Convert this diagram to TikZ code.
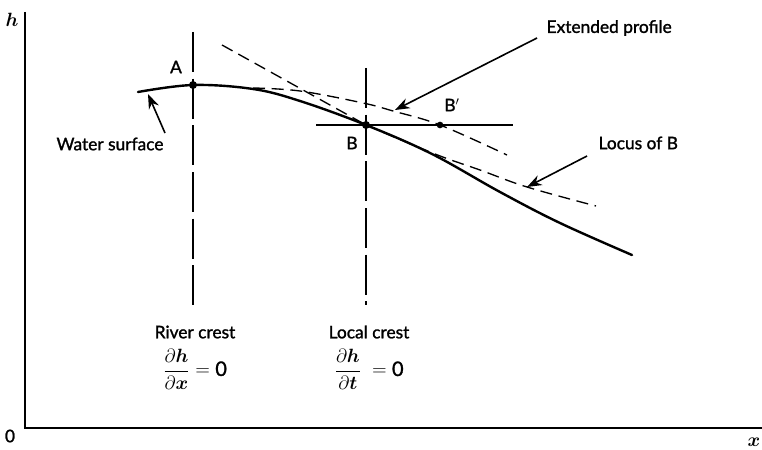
\documentclass[tikz,border=0pt]{standalone}
\usepackage{amsmath}
\usepackage{amssymb}
\usepackage{fontspec}
\setmainfont{Lato}
\newfontfamily\lblfont{Lato}[FakeBold=1.4]
\usetikzlibrary{arrows.meta, positioning}

\begin{document}
\begin{tikzpicture}[x=0.75pt, y=-0.75pt, font=\lblfont\fontsize{13}{15}\selectfont,
  axis/.style={line width=1.6pt},
  surf/.style={line width=1.8pt, line cap=round},
  crestln/.style={line width=0.9pt, dash pattern=on 30pt off 5pt},
  levelln/.style={line width=0.9pt},
  dsh/.style={line width=1pt, dash pattern=on 9pt off 5pt},
  ptr/.style={-{Stealth[length=11pt, width=8pt]}, line width=1.2pt},
  dot/.style={circle, fill, inner sep=0pt, minimum size=6pt},
  lbl/.style={inner sep=1pt},
  eq/.style={inner sep=1pt, font=\lblfont\fontsize{15}{18}\selectfont}]
\useasboundingbox (0,0) rectangle (762,449);
% axes
\draw[axis] (25,12) -- (25,428) -- (762,428);
\node[eq] (hlbl) at (12,20) {$\boldsymbol{h}$};
\node[lbl] (zlbl) at (10,436) {0};
\node[eq] (xlbl) at (754,442) {$\boldsymbol{x}$};
% crest lines
\draw[crestln] (193,32) -- (193,305);
\draw[crestln] (366,68) -- (366,305);
\draw[levelln] (316,125) -- (513,125);
% profiles
\draw[dsh] plot[smooth, tension=0.6] coordinates {(253,88) (300,91) (363,103) (393,111) (440,125) (507,155)};
\draw[dsh] (222,45) -- (366,125);
\draw[dsh] plot[smooth, tension=0.6] coordinates {(366,125) (435,154) (480,170) (527,187) (596,206)};
\draw[surf] plot[smooth, tension=0.6] coordinates {(138,92) (193,85) (253,89) (300,101) (366,125) (432,154) (500,192) (560,223) (632,255)};
% points
\node[dot] (A) at (193,85) {};
\node[dot] (B) at (366,125) {};
\node[dot, minimum size=5pt] (Bp) at (440,125) {};
\node[lbl] (Albl) at (176,67) {A};
\node[lbl] (Blbl) at (352,143) {B};
\node[lbl] (Bplbl) at (452,105) {B$'$};
% labels
\node[lbl] (ws) at (110,144) {Water surface};
\node[lbl, anchor=west] (ep) at (545,28) {Extended profile};
\node[lbl, anchor=west] (loc) at (597,143) {Locus of B};
\coordinate (wstail) at (165,133);
\coordinate (wstip) at (148,94);
\coordinate (eptail) at (537,38);
\coordinate (eptip) at (395,110);
\coordinate (loctail) at (587,156);
\coordinate (loctip) at (527,187);
\draw[ptr] (wstail) -- (wstip);
\draw[ptr] (eptail) -- (eptip);
\draw[ptr] (loctail) -- (loctip);
% crest conditions
\node[lbl] (rc) at (195,332) {River crest};
\node[lbl] (lc) at (369,332) {Local crest};
\node[eq, below=6pt of rc] (rcq) {$\dfrac{\partial\boldsymbol{h}}{\partial\boldsymbol{x}}=\text{0}$};
\node[eq, below=6pt of lc] (lcq) {$\dfrac{\partial\boldsymbol{h}}{\partial\boldsymbol{t}}\;=\text{0}$};
\end{tikzpicture}
\end{document}
